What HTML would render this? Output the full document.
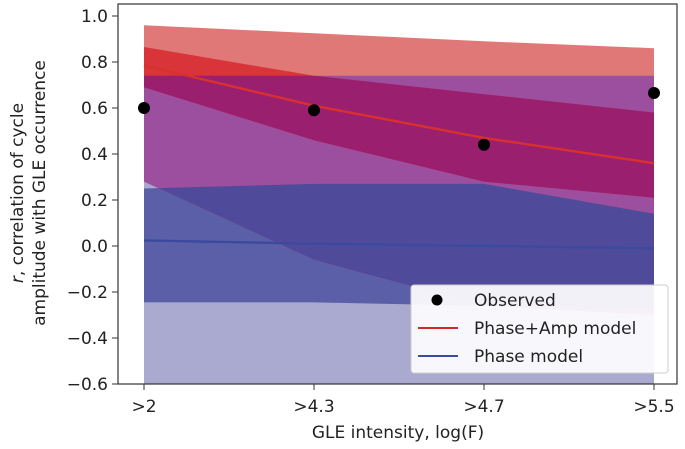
<!DOCTYPE html>
<html><head><meta charset="utf-8"><style>
body{margin:0;background:#fff;width:685px;height:444px;overflow:hidden}
svg text{font-family:"DejaVu Sans","Liberation Sans",sans-serif;fill:#222}
</style></head><body>
<svg id="chart" width="685" height="444" viewBox="0 0 685 444" xmlns="http://www.w3.org/2000/svg">
<defs></defs>
<g id="bands"></g>
<g id="lines"></g>
<g id="points"></g>
<rect x="118" y="4" width="559" height="380" fill="none" stroke="#333" stroke-width="1.2"/>
<g id="axes"></g>
<text transform="translate(23,193) rotate(-90)" text-anchor="middle" font-size="17"><tspan font-style="italic">r</tspan>, correlation of cycle</text>
<text transform="translate(45,193) rotate(-90)" text-anchor="middle" font-size="17">amplitude with GLE occurrence</text>
<text x="398" y="438" text-anchor="middle" font-size="17">GLE intensity, log(F)</text>
<g>
<rect x="411" y="285" width="257" height="88" rx="3" fill="#fff" fill-opacity="0.92" stroke="#ccc"/>
<circle cx="437" cy="300" r="5.5" fill="#000"/>
<text x="474" y="306" font-size="17">Observed</text>
<line x1="418" y1="328" x2="458" y2="328" stroke="#d62728" stroke-width="2"/>
<text x="474" y="334" font-size="17">Phase+Amp model</text>
<line x1="418" y1="356" x2="458" y2="356" stroke="#3b4ba0" stroke-width="2"/>
<text x="474" y="362" font-size="17">Phase model</text>
</g>
</svg>
<script>
const categories = [">2", ">4.3", ">4.7", ">5.5"];
const observed = [0.60, 0.59, 0.44, 0.665];
const phaseAmpLine = [0.785, 0.61, 0.47, 0.36];
const phaseAmpInnerUpper = [0.865, 0.74, 0.66, 0.58];
const phaseAmpInnerLower = [0.69, 0.46, 0.28, 0.21];
const phaseAmpOuterUpper = [0.96, 0.925, 0.89, 0.86];
const phaseAmpOuterLower = [0.28, -0.06, -0.26, -0.30];
const phaseLine = [0.024, 0.01, 0.0, -0.01];
const phaseInnerUpper = [0.25, 0.27, 0.27, 0.14];
const phaseInnerLower = [-0.245, -0.245, -0.26, -0.28];
const phaseOuterUpper = [0.74, 0.74, 0.74, 0.74];
const phaseOuterLower = [-0.6, -0.6, -0.6, -0.6];
const yTicks = [1.0, 0.8, 0.6, 0.4, 0.2, 0.0, -0.2, -0.4, -0.6];

const NS = "http://www.w3.org/2000/svg";
const X0 = 144, X1 = 654, YT = 16, YB = 384, VMAX = 1.0, VMIN = -0.6;
function xs(i){ return X0 + i * (X1 - X0) / (categories.length - 1); }
function ys(v){ return YT + (VMAX - v) / (VMAX - VMIN) * (YB - YT); }
function bandPts(up, lo){
  const p = [];
  up.forEach((v,i)=>p.push(xs(i)+","+ys(v)));
  for(let i=lo.length-1;i>=0;i--) p.push(xs(i)+","+ys(lo[i]));
  return p.join(" ");
}
const defs = document.querySelector("defs");
function clip(id, up, lo){
  const c = document.createElementNS(NS,"clipPath"); c.setAttribute("id", id);
  const p = document.createElementNS(NS,"polygon"); p.setAttribute("points", bandPts(up, lo));
  c.appendChild(p); defs.appendChild(c);
}
clip("cBO", phaseOuterUpper, phaseOuterLower);
clip("cRO", phaseAmpOuterUpper, phaseAmpOuterLower);
const bands = document.getElementById("bands");
function band(name, up, lo, color, clipId){
  const p = document.createElementNS(NS,"polygon");
  p.setAttribute("points", bandPts(up, lo));
  p.setAttribute("fill", color);
  if(clipId) p.setAttribute("clip-path", "url(#"+clipId+")");
  
  
  bands.appendChild(p);
}
band("phase-outer-band", phaseOuterUpper, phaseOuterLower, "#aaa9d0");
band("phase-inner-band", phaseInnerUpper, phaseInnerLower, "#5b5fa8");
band("phase-amp-outer-band", phaseAmpOuterUpper, phaseAmpOuterLower, "#df7876");
band("phase-amp-outer-overlap", phaseAmpOuterUpper, phaseAmpOuterLower, "#9b4f9e", "cBO");
band("phase-inner-overlap", phaseInnerUpper, phaseInnerLower, "#4f4a9a", "cRO");
band("phase-amp-inner-band", phaseAmpInnerUpper, phaseAmpInnerLower, "#d8343a");
band("phase-amp-inner-overlap", phaseAmpInnerUpper, phaseAmpInnerLower, "#9a1f6e", "cBO");

const lines = document.getElementById("lines");
function line(name, vals, color){
  const p = document.createElementNS(NS,"polyline");
  p.setAttribute("points", vals.map((v,i)=>xs(i)+","+ys(v)).join(" "));
  p.setAttribute("fill","none"); p.setAttribute("stroke",color); p.setAttribute("stroke-width","2.4");
  
  
  lines.appendChild(p);
}
line("phase-amp-model-line", phaseAmpLine, "#d8302f");
line("phase-model-line", phaseLine, "#3a4a9e");

const pts = document.getElementById("points");
observed.forEach((v,i)=>{
  const c = document.createElementNS(NS,"circle");
  c.setAttribute("cx", xs(i)); c.setAttribute("cy", ys(v)); c.setAttribute("r", 6);
  c.setAttribute("fill", "#000");
  
  
  pts.appendChild(c);
});

const axes = document.getElementById("axes");
yTicks.forEach(v=>{
  const y = ys(v);
  const l = document.createElementNS(NS,"line");
  l.setAttribute("x1",112); l.setAttribute("x2",118); l.setAttribute("y1",y); l.setAttribute("y2",y);
  l.setAttribute("stroke","#333");
  
  
  axes.appendChild(l);
  const t = document.createElementNS(NS,"text");
  t.setAttribute("x",108); t.setAttribute("y",y+6); t.setAttribute("text-anchor","end"); t.setAttribute("font-size","17");
  t.textContent = v.toFixed(1).replace("-", "\u2212");
  
  
  axes.appendChild(t);
});
categories.forEach((c,i)=>{
  const x = xs(i);
  const l = document.createElementNS(NS,"line");
  l.setAttribute("x1",x); l.setAttribute("x2",x); l.setAttribute("y1",384); l.setAttribute("y2",390);
  l.setAttribute("stroke","#333");
  
  
  axes.appendChild(l);
  const t = document.createElementNS(NS,"text");
  t.setAttribute("x",x); t.setAttribute("y",412); t.setAttribute("text-anchor","middle"); t.setAttribute("font-size","17");
  t.textContent = c;
  
  
  axes.appendChild(t);
});
</script>
</body></html>
